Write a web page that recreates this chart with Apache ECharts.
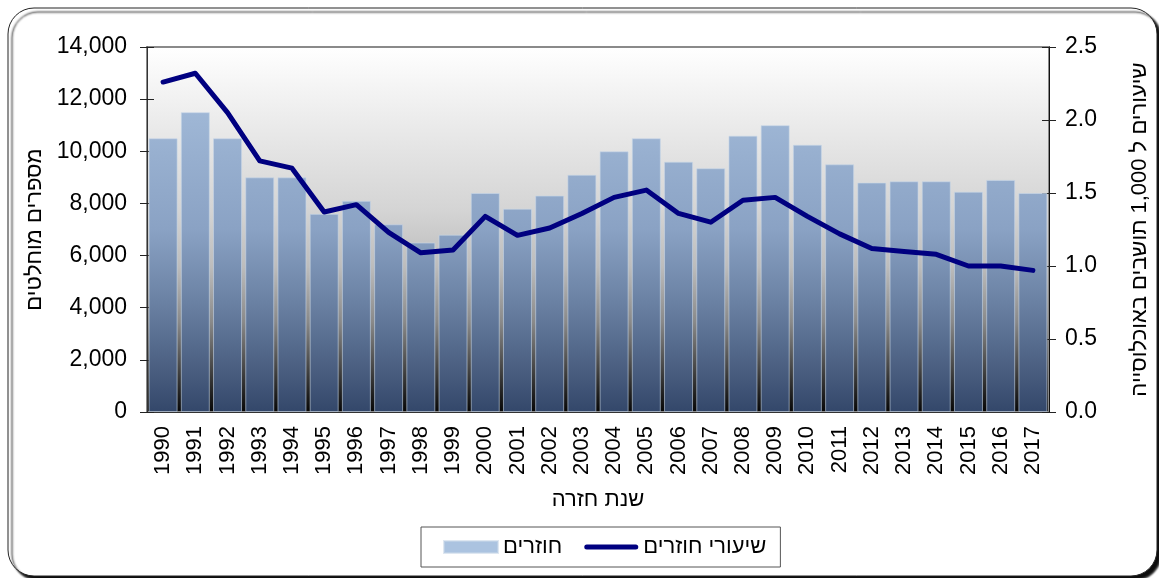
<!DOCTYPE html>
<html>
<head>
<meta charset="utf-8">
<script src="https://cdn.jsdelivr.net/npm/echarts@6/dist/echarts.min.js"></script>
<style>
html, body { margin: 0; padding: 0; background: #fff; }
#main { width: 1159px; height: 578px; }
</style>
</head>
<body>
<div id="main"></div>
<script>
var chart = echarts.init(document.getElementById('main'));

var years = ['1990','1991','1992','1993','1994','1995','1996','1997','1998','1999',
    '2000','2001','2002','2003','2004','2005','2006','2007','2008','2009',
    '2010','2011','2012','2013','2014','2015','2016','2017'];
var returnees = [10500, 11500, 10500, 9000, 9000, 7600, 8100, 7200, 6500, 6800,
    8400, 7800, 8300, 9100, 10000, 10500, 9600, 9350, 10600, 11000,
    10250, 9500, 8800, 8850, 8850, 8450, 8900, 8400];
var rates = [2.26, 2.32, 2.05, 1.72, 1.67, 1.37, 1.42, 1.23, 1.09, 1.11,
    1.34, 1.21, 1.26, 1.36, 1.47, 1.52, 1.36, 1.30, 1.45, 1.47,
    1.34, 1.22, 1.12, 1.10, 1.08, 1.00, 1.00, 0.97];

var font = 'Arial, "Liberation Sans", sans-serif';
var plotTop = 47, plotBottom = 412;

// bars share one gradient over the plot height
var barFill = {
    type: 'linear', global: true, x: 0, y: plotTop, x2: 0, y2: plotBottom,
    colorStops: [
        {offset: 0, color: '#abc3e0'},
        {offset: 0.5, color: '#8aa2c4'},
        {offset: 0.7, color: '#6a81a3'},
        {offset: 0.9, color: '#475b7d'},
        {offset: 1, color: '#33476a'}
    ]
};
var plotBg = {
    type: 'linear', x: 0, y: 0, x2: 0, y2: 1,
    colorStops: [
        {offset: 0, color: '#ffffff'},
        {offset: 0.45, color: '#d4d4d4'},
        {offset: 0.6, color: '#bdbdbd'},
        {offset: 0.75, color: '#8a8a8a'},
        {offset: 0.9, color: '#3a3a3a'},
        {offset: 1, color: '#050505'}
    ]
};

// thick rounded line for the legend (keeps its aspect inside the item box)
var lineIcon = 'path://M2.5,0 L51.5,0 A2.5,2.5 0 0 1 51.5,5 L2.5,5 A2.5,2.5 0 0 1 2.5,0 Z';

// second copy of each y axis only to draw the inner half of the ticks
function innerTicks(pos, max, step) {
    return {
        type: 'value', position: pos, min: 0, max: max, interval: step,
        axisLine: {show: false},
        axisTick: {show: true, inside: true, length: 7, lineStyle: {color: '#222'}},
        axisLabel: {show: false},
        splitLine: {show: false}
    };
}

var option = {
    animation: false,
    textStyle: {fontFamily: font},
    graphic: [{
        type: 'rect', z: -10,
        shape: {x: 8, y: 8, width: 1149, height: 568, r: 26},
        style: {
            fill: '#fff', stroke: '#222', lineWidth: 1,
            shadowColor: 'rgba(0,0,0,0.95)', shadowOffsetX: 4, shadowOffsetY: 4, shadowBlur: 2
        }
    }],
    grid: {
        left: 147, right: 105, top: plotTop, bottom: 578 - plotBottom,
        show: true, backgroundColor: plotBg, borderColor: '#8a8a8a', borderWidth: 2
    },
    legend: {
        data: [
            {name: 'חוזרים', icon: 'rect'},
            {name: 'שיעורי חוזרים', icon: lineIcon}
        ],
        left: 421, top: 527, width: 366, height: 40,
        padding: [9, 14, 9, 22],
        itemGap: 22, itemWidth: 54, itemHeight: 12,
        symbolKeepAspect: true,
        borderColor: '#555', borderWidth: 1,
        textStyle: {fontSize: 22, color: '#000', fontFamily: font}
    },
    xAxis: {
        type: 'category', data: years,
        name: 'שנת חזרה', nameLocation: 'middle', nameGap: 77,
        nameTextStyle: {fontSize: 22, color: '#000'},
        axisLine: {lineStyle: {color: '#333', width: 1}},
        axisTick: {length: 7, lineStyle: {color: '#222'}},
        axisLabel: {rotate: 90, fontSize: 22, color: '#000', margin: 14}
    },
    yAxis: [{
        type: 'value', min: 0, max: 14000, interval: 2000,
        name: 'מספרים מוחלטים', nameLocation: 'middle', nameGap: 100, nameRotate: 90,
        nameTextStyle: {fontSize: 22, color: '#000'},
        axisLine: {show: true, lineStyle: {color: '#333'}},
        axisTick: {show: true, length: 7, lineStyle: {color: '#222'}},
        splitLine: {show: false},
        axisLabel: {
            fontSize: 23, color: '#000', margin: 20,
            formatter: function (v) { return v.toLocaleString('en-US'); }
        }
    }, {
        type: 'value', min: 0, max: 2.5, interval: 0.5,
        name: 'שיעורים ל 1,000 תושבים באוכלוסייה', nameLocation: 'middle', nameGap: 80, nameRotate: 90,
        nameTextStyle: {fontSize: 22, color: '#000'},
        axisLine: {show: true, lineStyle: {color: '#111'}},
        axisTick: {show: true, length: 7, lineStyle: {color: '#222'}},
        splitLine: {show: false},
        axisLabel: {
            fontSize: 23, color: '#000', margin: 16,
            formatter: function (v) { return v.toFixed(1); }
        }
    },
    innerTicks('left', 14000, 2000),
    innerTicks('right', 2.5, 0.5)],
    series: [{
        name: 'חוזרים', type: 'bar', yAxisIndex: 0,
        data: returnees, barCategoryGap: '10%',
        itemStyle: {color: barFill, borderColor: 'rgba(200,215,232,0.6)', borderWidth: 1}
    }, {
        name: 'שיעורי חוזרים', type: 'line', yAxisIndex: 1,
        data: rates, symbol: 'none', showSymbol: false,
        itemStyle: {color: '#000080'},
        lineStyle: {color: '#000080', width: 5, cap: 'round', join: 'round'}
    }]
};

chart.setOption(option);
window.onresize = chart.resize;
</script>
</body>
</html>
